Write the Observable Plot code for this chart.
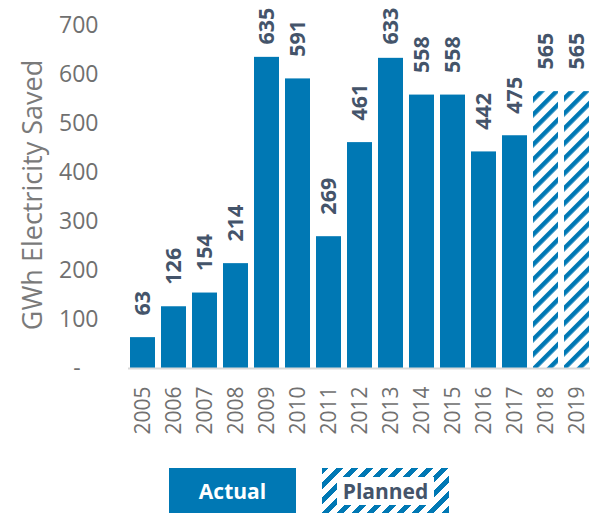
<!DOCTYPE html>
<html>
<head>
<meta charset="utf-8">
<script src="https://cdn.jsdelivr.net/npm/d3@7"></script>
<script src="https://cdn.jsdelivr.net/npm/@observablehq/plot@0.6"></script>
<style>
  html, body { margin: 0; padding: 0; background: #fff; }
  body { width: 592px; height: 513px; overflow: hidden; font-family: "Open Sans", sans-serif; }
  #legend { position: relative; width: 592px; height: 45px; margin-top: 6px; }
  .lg { position: absolute; top: 0; width: 127px; height: 45px; display: flex; align-items: center; justify-content: center; font-weight: 700; font-size: 21px; }
  #lg-actual { left: 169px; background: #0078b4; color: #fff; }
  #lg-planned { left: 322px; background: repeating-linear-gradient(135deg, #0078b4 0 4.5px, #fff 4.5px 10.6px); color: #44546a; }
  #lg-planned span { background: #fff; padding: 1px 6px; line-height: 26px; }
</style>
</head>
<body>
<div id="chart"></div>
<div id="legend">
  <div class="lg" id="lg-actual">Actual</div>
  <div class="lg" id="lg-planned"><span>Planned</span></div>
</div>
<script>
const years = ["2005","2006","2007","2008","2009","2010","2011","2012","2013","2014","2015","2016","2017","2018","2019"];
const values = [63,126,154,214,635,591,269,461,633,558,558,442,475,565,565];
const types = ["Actual","Actual","Actual","Actual","Actual","Actual","Actual","Actual","Actual","Actual","Actual","Actual","Actual","Planned","Planned"];
const yTicks = [0,100,200,300,400,500,600,700];
const yLabel = "GWh Electricity Saved";

const blue = "#0078b4";
const data = years.map((y, i) => ({year: y, value: values[i], type: types[i]}));

// label anchor sits a little above the bar; labels that would leave the top are pulled down
const labelGap = 45;      // in value units (~22px)
const labelMax = 661;     // keeps the tallest labels inside the chart
const labelPos = d => Math.min(d.value + labelGap, labelMax);

const chart = Plot.plot({
  width: 592,
  height: 462,
  marginLeft: 128,
  marginRight: 2,
  marginTop: 25,
  marginBottom: 94,
  style: {fontFamily: "Open Sans", color: "#707070", background: "#fff", overflow: "visible"},
  x: {domain: years, paddingInner: 0.2, paddingOuter: 0.05, axis: null},
  y: {domain: [0, 700], axis: null},
  marks: [
    Plot.axisY({ticks: yTicks, tickSize: 0, tickPadding: 30, fontSize: 23, label: null,
      tickFormat: d => d === 0 ? "-\u00a0\u00a0\u00a0" : String(d)}),
    Plot.axisX({tickSize: 0, tickRotate: -90, tickPadding: 18, fontSize: 21, label: null}),
    Plot.barY(data.filter(d => d.type === "Actual"), {x: "year", y: "value", fill: blue}),
    Plot.barY(data.filter(d => d.type === "Planned"), {x: "year", y: "value", fill: "url(#hatch)"}),
    Plot.ruleY([0], {stroke: "#d9d9d9", strokeWidth: 2}),
    Plot.text(data, {x: "year", y: labelPos, text: d => String(d.value), rotate: -90, textAnchor: "start",
      fontSize: 21.5, fontWeight: "bold", fill: "#44546a"}),
    Plot.text([yLabel], {frameAnchor: "left", textAnchor: "middle", rotate: -90, dx: -95, dy: -2, fontSize: 27, fill: "#7a7a7a"})
  ]
});

const svg = d3.select(chart);
const defs = svg.insert("defs", ":first-child");
const pat = defs.append("pattern")
  .attr("id", "hatch")
  .attr("patternUnits", "userSpaceOnUse")
  .attr("width", 10.6)
  .attr("height", 10.6)
  .attr("patternTransform", "rotate(45)");
pat.append("rect").attr("width", 10.6).attr("height", 10.6).attr("fill", "#fff");
pat.append("rect").attr("width", 4.5).attr("height", 10.6).attr("fill", blue);

document.getElementById("chart").appendChild(chart);
</script>
</body>
</html>
